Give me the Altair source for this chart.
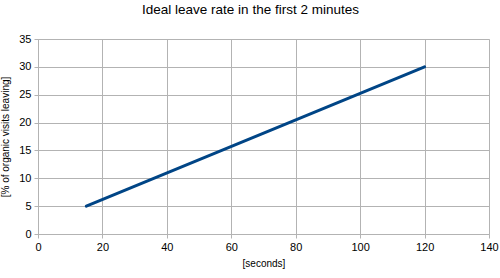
import altair as alt
import pandas as pd

seconds = [15, 120]
leave_pct = [5, 30]
x_ticks = [0, 20, 40, 60, 80, 100, 120, 140]
y_ticks = [0, 5, 10, 15, 20, 25, 30, 35]

df = pd.DataFrame({"seconds": seconds, "pct": leave_pct})

FONT = "Liberation Sans"

chart = alt.Chart(df).mark_line(color="#004586", strokeWidth=3, strokeCap="round").encode(
    x=alt.X("seconds:Q",
            scale=alt.Scale(domain=[0, 140], nice=False, zero=False),
            axis=alt.Axis(values=x_ticks, title="[seconds]", grid=True,
                          gridColor="#b3b3b3", domainColor="#b3b3b3", tickColor="#b3b3b3",
                          tickSize=4, labelPadding=3, labelFontSize=11, labelFont=FONT,
                          labelColor="#000", titleFont=FONT, titleFontSize=10,
                          titleFontWeight="normal", titleColor="#000", titlePadding=6,
                          labelFlush=False)),
    y=alt.Y("pct:Q",
            scale=alt.Scale(domain=[0, 35], nice=False),
            axis=alt.Axis(values=y_ticks, title="[% of organic visits leaving]", grid=True,
                          gridColor="#b3b3b3", domainColor="#b3b3b3", tickColor="#b3b3b3",
                          tickSize=4, labelPadding=3, labelFontSize=11, labelFont=FONT,
                          labelColor="#000", titleFont=FONT, titleFontSize=10,
                          titleFontWeight="normal", titleColor="#000", titlePadding=8)),
).properties(
    width=451,
    height=195,
    title=alt.TitleParams("Ideal leave rate in the first 2 minutes", font=FONT,
                          fontSize=13.5, fontWeight="normal", color="#000", offset=17,
                          anchor="middle", dx=-13),
    autosize=alt.AutoSizeParams(type="none"),
    padding={"left": 38, "top": 39, "right": 11, "bottom": 44},
).configure_view(stroke=None).configure(background="white")

chart.save("out.html", embed_options={"renderer": "svg", "actions": False})
